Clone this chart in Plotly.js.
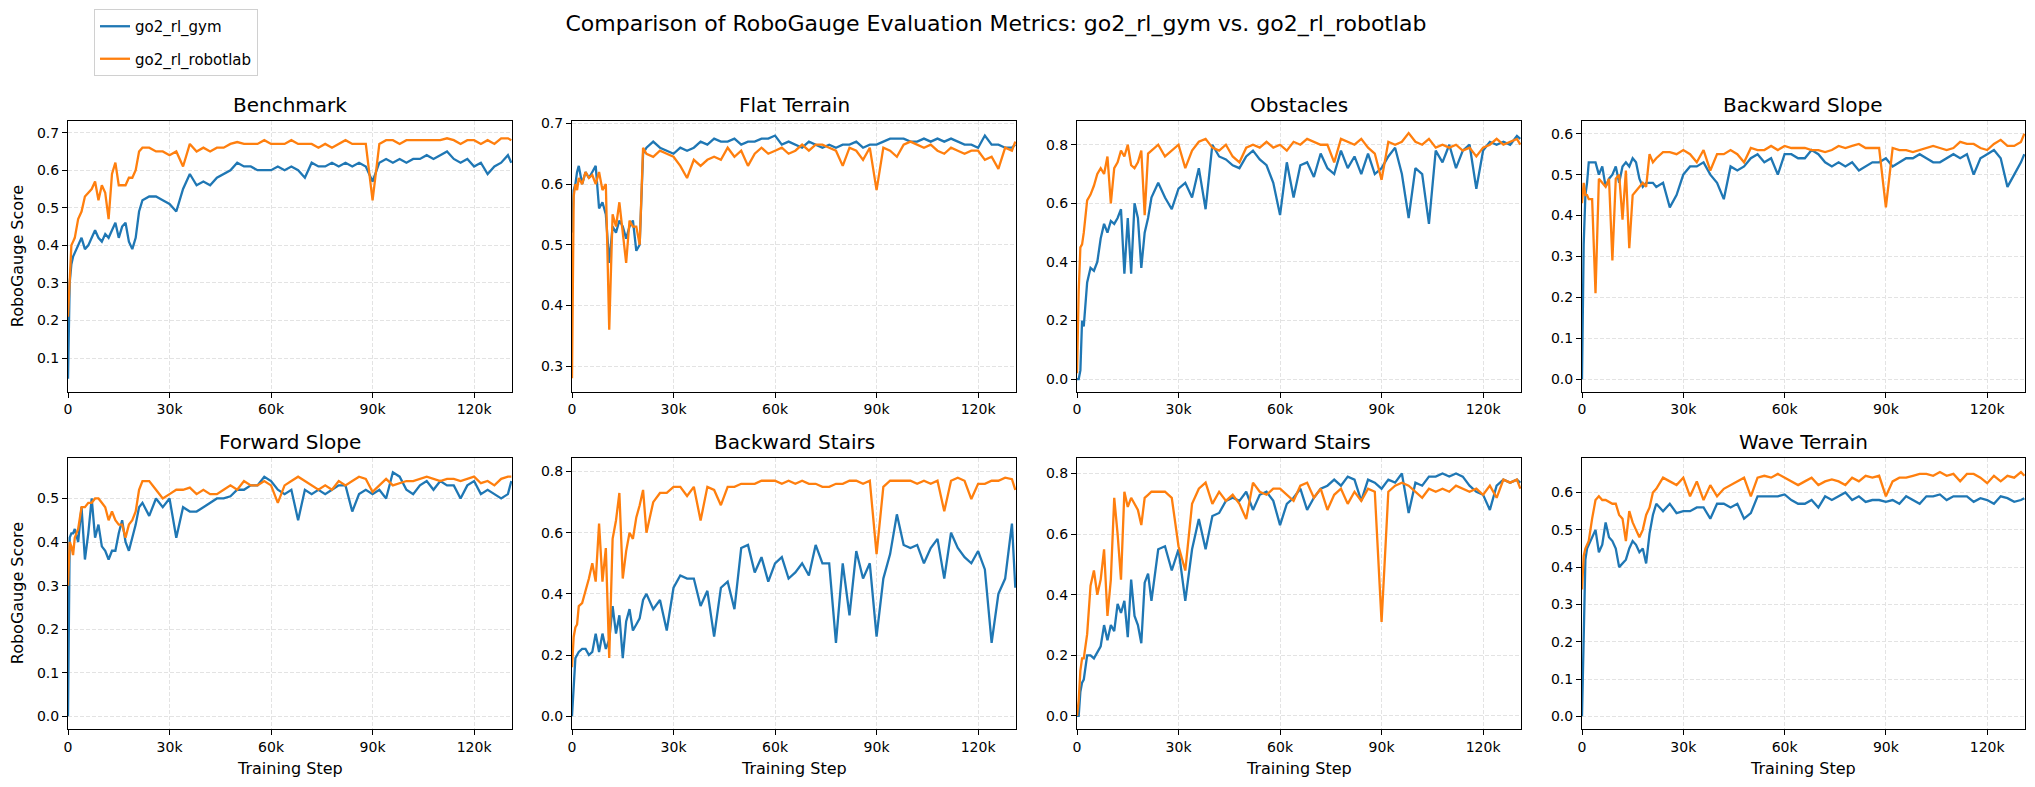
<!DOCTYPE html>
<html>
<head>
<meta charset="utf-8">
<script src="https://cdn.plot.ly/plotly-3.0.1.min.js"></script>
<style>
  html, body { margin: 0; padding: 0; background: #fff; }
  #chart { width: 2035px; height: 787px; }
</style>
</head>
<body>
<div id="chart"></div>
<script>
// training step, in thousands
const steps = [0, 0.5, 1, 1.5,
  2, 3, 4, 5, 6, 7, 8, 9, 10, 11, 12, 13, 14, 15, 16, 17, 18, 19, 20, 21, 22,
  24, 26, 28, 30, 32, 34, 36, 38, 40, 42,
  44, 46, 48, 50, 52, 54, 56, 58, 60, 62,
  64, 66, 68, 70, 72, 74, 76, 78, 80, 82,
  84, 86, 88, 90, 92, 94, 96, 98, 100, 102,
  104, 106, 108, 110, 112, 114, 116, 118, 120, 122,
  124, 126, 128, 130, 131];

const benchmarkGym = [0.045, 0.30, 0.35, 0.37,
  0.38, 0.40, 0.42, 0.39, 0.40, 0.42, 0.44, 0.42, 0.41, 0.43, 0.42, 0.44, 0.46, 0.42, 0.45, 0.46, 0.41, 0.39, 0.42, 0.49, 0.52,
  0.53, 0.53, 0.52, 0.51, 0.49, 0.55, 0.59, 0.56, 0.57, 0.56,
  0.58, 0.59, 0.60, 0.62, 0.61, 0.61, 0.60, 0.60, 0.60, 0.61,
  0.60, 0.61, 0.60, 0.58, 0.62, 0.61, 0.61, 0.62, 0.61, 0.62,
  0.61, 0.62, 0.61, 0.57, 0.62, 0.63, 0.62, 0.63, 0.62, 0.63,
  0.63, 0.64, 0.63, 0.64, 0.65, 0.63, 0.62, 0.63, 0.61, 0.62,
  0.59, 0.61, 0.62, 0.64, 0.62];
const benchmarkLab = [0.21, 0.33, 0.40, 0.41,
  0.42, 0.47, 0.49, 0.53, 0.54, 0.55, 0.57, 0.52, 0.56, 0.54, 0.47, 0.59, 0.62, 0.56, 0.56, 0.56, 0.58, 0.58, 0.60, 0.65, 0.66,
  0.66, 0.65, 0.65, 0.64, 0.65, 0.61, 0.67, 0.65, 0.66, 0.65,
  0.66, 0.66, 0.67, 0.675, 0.67, 0.67, 0.67, 0.68, 0.67, 0.67,
  0.67, 0.68, 0.67, 0.67, 0.67, 0.66, 0.67, 0.66, 0.67, 0.68,
  0.67, 0.67, 0.67, 0.52, 0.67, 0.68, 0.68, 0.67, 0.68, 0.68,
  0.68, 0.68, 0.68, 0.68, 0.685, 0.68, 0.67, 0.68, 0.68, 0.67,
  0.68, 0.67, 0.685, 0.685, 0.68];

const flatGym = [0.52, 0.59, 0.60, 0.62,
  0.63, 0.60, 0.62, 0.61, 0.62, 0.63, 0.56, 0.57, 0.55, 0.47, 0.53, 0.52, 0.54, 0.53, 0.51, 0.53, 0.54, 0.49, 0.50, 0.65, 0.66,
  0.67, 0.66, 0.655, 0.65, 0.66, 0.655, 0.66, 0.67, 0.665, 0.675,
  0.67, 0.67, 0.675, 0.665, 0.67, 0.67, 0.675, 0.675, 0.68, 0.665,
  0.67, 0.665, 0.66, 0.67, 0.665, 0.66, 0.665, 0.66, 0.665, 0.665,
  0.67, 0.66, 0.665, 0.665, 0.67, 0.675, 0.675, 0.675, 0.67, 0.67,
  0.675, 0.67, 0.675, 0.67, 0.675, 0.67, 0.665, 0.665, 0.66, 0.68,
  0.665, 0.665, 0.66, 0.66, 0.665];
const flatLab = [0.28, 0.58, 0.60, 0.59,
  0.61, 0.60, 0.62, 0.61, 0.615, 0.60, 0.62, 0.59, 0.60, 0.36, 0.55, 0.53, 0.57, 0.52, 0.47, 0.54, 0.53, 0.53, 0.50, 0.66, 0.65,
  0.645, 0.655, 0.65, 0.645, 0.63, 0.61, 0.64, 0.63, 0.64, 0.645,
  0.64, 0.66, 0.645, 0.655, 0.63, 0.65, 0.66, 0.65, 0.655, 0.66,
  0.65, 0.655, 0.665, 0.655, 0.665, 0.665, 0.66, 0.655, 0.63, 0.66,
  0.655, 0.64, 0.66, 0.59, 0.66, 0.655, 0.645, 0.665, 0.67, 0.665,
  0.66, 0.665, 0.655, 0.65, 0.66, 0.655, 0.65, 0.655, 0.655, 0.64,
  0.645, 0.625, 0.66, 0.655, 0.67];

const obstaclesGym = [0.0, 0.0, 0.03, 0.20,
  0.18, 0.33, 0.38, 0.37, 0.40, 0.48, 0.53, 0.50, 0.54, 0.53, 0.55, 0.58, 0.36, 0.55, 0.36, 0.60, 0.55, 0.38, 0.50, 0.55, 0.62,
  0.67, 0.62, 0.58, 0.65, 0.67, 0.62, 0.72, 0.58, 0.80, 0.76,
  0.75, 0.73, 0.72, 0.76, 0.78, 0.75, 0.73, 0.67, 0.56, 0.74,
  0.62, 0.73, 0.74, 0.69, 0.77, 0.72, 0.70, 0.78, 0.72, 0.76,
  0.70, 0.77, 0.70, 0.72, 0.76, 0.79, 0.70, 0.55, 0.72, 0.70,
  0.53, 0.78, 0.74, 0.80, 0.72, 0.78, 0.80, 0.65, 0.78, 0.81,
  0.80, 0.81, 0.80, 0.83, 0.82];
const obstaclesLab = [0.02, 0.30, 0.45, 0.46,
  0.50, 0.61, 0.63, 0.66, 0.70, 0.72, 0.70, 0.76, 0.60, 0.72, 0.74, 0.78, 0.76, 0.80, 0.73, 0.72, 0.74, 0.78, 0.56, 0.77, 0.78,
  0.80, 0.76, 0.78, 0.80, 0.72, 0.78, 0.81, 0.82, 0.79, 0.78,
  0.80, 0.76, 0.74, 0.79, 0.80, 0.79, 0.81, 0.79, 0.80, 0.78,
  0.81, 0.80, 0.82, 0.81, 0.80, 0.80, 0.74, 0.82, 0.81, 0.80,
  0.82, 0.79, 0.77, 0.68, 0.81, 0.80, 0.81, 0.84, 0.81, 0.80,
  0.82, 0.79, 0.80, 0.79, 0.80, 0.78, 0.79, 0.76, 0.79, 0.80,
  0.82, 0.80, 0.81, 0.82, 0.80];

const backSlopeGym = [0.0, 0.33, 0.45, 0.48,
  0.53, 0.53, 0.53, 0.50, 0.52, 0.47, 0.49, 0.50, 0.52, 0.48, 0.52, 0.53, 0.52, 0.54, 0.53, 0.49, 0.47, 0.48, 0.48, 0.48, 0.47,
  0.48, 0.42, 0.45, 0.50, 0.52, 0.52, 0.53, 0.50, 0.48, 0.44,
  0.52, 0.51, 0.52, 0.54, 0.55, 0.53, 0.54, 0.50, 0.55, 0.55,
  0.54, 0.54, 0.56, 0.55, 0.53, 0.52, 0.53, 0.52, 0.53, 0.51,
  0.52, 0.53, 0.53, 0.54, 0.52, 0.53, 0.54, 0.54, 0.55, 0.54,
  0.53, 0.53, 0.54, 0.55, 0.54, 0.55, 0.50, 0.54, 0.55, 0.56,
  0.54, 0.47, 0.50, 0.53, 0.55];
const backSlopeLab = [0.43, 0.48, 0.45, 0.45,
  0.44, 0.44, 0.21, 0.49, 0.48, 0.47, 0.49, 0.29, 0.49, 0.50, 0.39, 0.51, 0.32, 0.45, 0.46, 0.47, 0.48, 0.47, 0.55, 0.53, 0.54,
  0.555, 0.555, 0.55, 0.56, 0.55, 0.53, 0.56, 0.51, 0.55, 0.55,
  0.56, 0.55, 0.53, 0.565, 0.56, 0.56, 0.57, 0.56, 0.57, 0.565,
  0.565, 0.565, 0.56, 0.56, 0.555, 0.56, 0.57, 0.565, 0.57, 0.575,
  0.565, 0.565, 0.565, 0.42, 0.565, 0.56, 0.56, 0.555, 0.56, 0.565,
  0.57, 0.565, 0.56, 0.565, 0.58, 0.575, 0.575, 0.565, 0.56, 0.575,
  0.585, 0.57, 0.57, 0.58, 0.60];

const fwdSlopeGym = [0.0, 0.41, 0.42, 0.42,
  0.43, 0.40, 0.48, 0.36, 0.42, 0.50, 0.41, 0.44, 0.39, 0.38, 0.36, 0.38, 0.38, 0.42, 0.45, 0.40, 0.38, 0.41, 0.44, 0.48, 0.49,
  0.46, 0.50, 0.48, 0.50, 0.41, 0.48, 0.47, 0.47, 0.48, 0.49,
  0.50, 0.50, 0.505, 0.52, 0.52, 0.53, 0.53, 0.55, 0.54, 0.52,
  0.51, 0.52, 0.45, 0.52, 0.51, 0.52, 0.51, 0.52, 0.53, 0.53,
  0.47, 0.51, 0.52, 0.51, 0.52, 0.50, 0.56, 0.55, 0.52, 0.51,
  0.53, 0.54, 0.52, 0.54, 0.53, 0.53, 0.50, 0.53, 0.54, 0.51,
  0.52, 0.51, 0.50, 0.51, 0.54];
const fwdSlopeLab = [0.30, 0.40, 0.39, 0.37,
  0.41, 0.43, 0.48, 0.48, 0.49, 0.49, 0.50, 0.50, 0.49, 0.48, 0.45, 0.47, 0.45, 0.44, 0.44, 0.41, 0.44, 0.45, 0.47, 0.52, 0.54,
  0.54, 0.52, 0.50, 0.51, 0.52, 0.52, 0.525, 0.51, 0.52, 0.51,
  0.51, 0.52, 0.53, 0.52, 0.54, 0.53, 0.53, 0.54, 0.53, 0.49,
  0.53, 0.54, 0.55, 0.54, 0.53, 0.52, 0.53, 0.52, 0.54, 0.53,
  0.54, 0.55, 0.545, 0.515, 0.53, 0.545, 0.53, 0.535, 0.54, 0.54,
  0.545, 0.55, 0.545, 0.54, 0.545, 0.545, 0.54, 0.545, 0.55, 0.535,
  0.54, 0.53, 0.545, 0.55, 0.55];

const backStairsGym = [0.0, 0.08, 0.19, 0.20,
  0.21, 0.22, 0.22, 0.20, 0.21, 0.27, 0.21, 0.27, 0.22, 0.25, 0.36, 0.27, 0.33, 0.19, 0.31, 0.35, 0.28, 0.30, 0.32, 0.38, 0.40,
  0.35, 0.38, 0.28, 0.42, 0.46, 0.45, 0.45, 0.36, 0.41, 0.26,
  0.42, 0.44, 0.35, 0.55, 0.56, 0.47, 0.52, 0.44, 0.50, 0.52,
  0.45, 0.47, 0.50, 0.46, 0.56, 0.50, 0.50, 0.24, 0.50, 0.33,
  0.54, 0.45, 0.50, 0.26, 0.45, 0.53, 0.66, 0.56, 0.55, 0.56,
  0.50, 0.55, 0.58, 0.45, 0.60, 0.55, 0.52, 0.50, 0.54, 0.48,
  0.24, 0.40, 0.45, 0.63, 0.42];
const backStairsLab = [0.16, 0.26, 0.29, 0.30,
  0.36, 0.37, 0.41, 0.45, 0.50, 0.44, 0.63, 0.44, 0.55, 0.19, 0.58, 0.64, 0.73, 0.45, 0.54, 0.60, 0.58, 0.65, 0.69, 0.74, 0.60,
  0.70, 0.73, 0.73, 0.75, 0.75, 0.72, 0.75, 0.64, 0.75, 0.74,
  0.69, 0.75, 0.75, 0.76, 0.76, 0.76, 0.77, 0.77, 0.77, 0.76,
  0.77, 0.76, 0.77, 0.76, 0.76, 0.75, 0.75, 0.76, 0.76, 0.77,
  0.77, 0.76, 0.77, 0.53, 0.75, 0.77, 0.77, 0.77, 0.77, 0.76,
  0.77, 0.76, 0.77, 0.67, 0.77, 0.78, 0.77, 0.71, 0.76, 0.76,
  0.77, 0.77, 0.78, 0.775, 0.74];

const fwdStairsGym = [0.0, 0.0, 0.08, 0.11,
  0.12, 0.20, 0.20, 0.19, 0.21, 0.23, 0.30, 0.25, 0.30, 0.28, 0.37, 0.34, 0.38, 0.26, 0.45, 0.33, 0.30, 0.24, 0.44, 0.47, 0.38,
  0.55, 0.56, 0.48, 0.55, 0.38, 0.55, 0.65, 0.55, 0.66, 0.67,
  0.71, 0.72, 0.71, 0.74, 0.68, 0.73, 0.74, 0.71, 0.63, 0.70,
  0.72, 0.75, 0.68, 0.72, 0.75, 0.76, 0.78, 0.76, 0.79, 0.78,
  0.71, 0.78, 0.77, 0.75, 0.78, 0.77, 0.80, 0.67, 0.77, 0.76,
  0.79, 0.79, 0.80, 0.79, 0.80, 0.79, 0.76, 0.74, 0.73, 0.68,
  0.76, 0.78, 0.77, 0.78, 0.77];
const fwdStairsLab = [0.0, 0.05, 0.15, 0.19,
  0.19, 0.27, 0.43, 0.48, 0.40, 0.45, 0.55, 0.33, 0.45, 0.72, 0.60, 0.45, 0.74, 0.69, 0.72, 0.70, 0.68, 0.63, 0.72, 0.73, 0.74,
  0.74, 0.74, 0.72, 0.56, 0.48, 0.70, 0.75, 0.77, 0.70, 0.74,
  0.71, 0.73, 0.70, 0.65, 0.77, 0.74, 0.73, 0.75, 0.75, 0.73,
  0.71, 0.76, 0.77, 0.72, 0.75, 0.68, 0.73, 0.75, 0.70, 0.74,
  0.71, 0.75, 0.74, 0.31, 0.74, 0.76, 0.77, 0.76, 0.74, 0.72,
  0.75, 0.74, 0.75, 0.74, 0.76, 0.75, 0.74, 0.75, 0.73, 0.76,
  0.72, 0.78, 0.77, 0.78, 0.75];

const waveGym = [0.0, 0.25, 0.42, 0.45,
  0.46, 0.48, 0.50, 0.44, 0.46, 0.52, 0.48, 0.47, 0.45, 0.40, 0.41, 0.42, 0.45, 0.47, 0.46, 0.44, 0.45, 0.41, 0.49, 0.54, 0.57,
  0.55, 0.57, 0.545, 0.55, 0.55, 0.56, 0.56, 0.53, 0.57, 0.57,
  0.56, 0.57, 0.53, 0.545, 0.59, 0.59, 0.59, 0.59, 0.595, 0.58,
  0.57, 0.57, 0.58, 0.56, 0.59, 0.58, 0.59, 0.60, 0.58, 0.59,
  0.575, 0.58, 0.58, 0.575, 0.58, 0.57, 0.59, 0.58, 0.57, 0.59,
  0.59, 0.595, 0.58, 0.59, 0.59, 0.59, 0.575, 0.585, 0.58, 0.57,
  0.59, 0.585, 0.575, 0.58, 0.585];
const waveLab = [0.34, 0.43, 0.45, 0.46,
  0.47, 0.53, 0.58, 0.59, 0.58, 0.58, 0.575, 0.57, 0.57, 0.54, 0.53, 0.47, 0.55, 0.52, 0.50, 0.48, 0.50, 0.54, 0.56, 0.60, 0.61,
  0.64, 0.63, 0.62, 0.64, 0.59, 0.63, 0.58, 0.62, 0.59, 0.61,
  0.62, 0.63, 0.64, 0.59, 0.64, 0.645, 0.64, 0.65, 0.64, 0.63,
  0.62, 0.63, 0.64, 0.62, 0.63, 0.635, 0.63, 0.62, 0.64, 0.63,
  0.645, 0.64, 0.645, 0.59, 0.63, 0.64, 0.64, 0.645, 0.65, 0.65,
  0.645, 0.655, 0.645, 0.65, 0.63, 0.65, 0.65, 0.64, 0.625, 0.645,
  0.63, 0.645, 0.64, 0.655, 0.645];

const panelTitles = ['Benchmark', 'Flat Terrain', 'Obstacles', 'Backward Slope',
  'Forward Slope', 'Backward Stairs', 'Forward Stairs', 'Wave Terrain'];
const panelSeries = [
  [benchmarkGym, benchmarkLab], [flatGym, flatLab], [obstaclesGym, obstaclesLab], [backSlopeGym, backSlopeLab],
  [fwdSlopeGym, fwdSlopeLab], [backStairsGym, backStairsLab], [fwdStairsGym, fwdStairsLab], [waveGym, waveLab]
];
const yRanges = [[0.011, 0.731], [0.258, 0.704], [-0.042, 0.881], [-0.030, 0.631],
  [-0.029, 0.594], [-0.042, 0.846], [-0.043, 0.853], [-0.034, 0.694]];
const yDticks = [0.1, 0.1, 0.2, 0.1, 0.1, 0.2, 0.2, 0.1];
const xTickVals = [0, 30, 60, 90, 120];
const xTickText = ['0', '30k', '60k', '90k', '120k'];
const seriesNames = ['go2_rl_gym', 'go2_rl_robotlab'];
const seriesColors = ['#1f77b4', '#ff7f0e'];

const FONT = 'DejaVu Sans, Liberation Sans, sans-serif';
const W = 2035, H = 787;
const colPx = [[68, 512], [572, 1016], [1077, 1521], [1582, 2025]];
const rowPx = [[121, 391.5], [457.5, 729]];

function axisBase() {
  return {
    showline: true, mirror: true, linecolor: '#000', linewidth: 1,
    ticks: 'outside', ticklen: 5, tickwidth: 1, tickcolor: '#000',
    showgrid: true, gridcolor: '#e3e3e3', gridwidth: 1, griddash: '4px,2px',
    zeroline: false, automargin: false,
    tickfont: {family: FONT, size: 14, color: '#000'}
  };
}

const traces = [];
const layout = {
  width: W, height: H,
  margin: {l: 0, r: 0, t: 0, b: 0},
  paper_bgcolor: '#fff', plot_bgcolor: '#fff',
  font: {family: FONT, color: '#000'},
  showlegend: true,
  title: {
    text: 'Comparison of RoboGauge Evaluation Metrics: go2_rl_gym vs. go2_rl_robotlab',
    font: {family: FONT, size: 22, color: '#000'},
    x: 996 / W, xanchor: 'center', y: 1 - 23 / H, yanchor: 'middle'
  },
  legend: {
    x: 94 / W, y: 1 - 9 / H, xanchor: 'left', yanchor: 'top',
    bgcolor: '#fff', bordercolor: '#d0d0d0', borderwidth: 1,
    font: {family: FONT, size: 15, color: '#000'}
  },
  annotations: []
};

for (let i = 0; i < 8; ++i) {
  const row = Math.floor(i / 4), col = i % 4;
  const sfx = i === 0 ? '' : String(i + 1);
  const xd = [colPx[col][0] / W, colPx[col][1] / W];
  const yd = [1 - rowPx[row][1] / H, 1 - rowPx[row][0] / H];

  layout['xaxis' + sfx] = Object.assign(axisBase(), {
    domain: xd, anchor: 'y' + sfx, range: [0, 131.2],
    tickmode: 'array', tickvals: xTickVals, ticktext: xTickText
  });
  layout['yaxis' + sfx] = Object.assign(axisBase(), {
    domain: yd, anchor: 'x' + sfx, range: yRanges[i],
    tick0: 0, dtick: yDticks[i], tickformat: '.1f'
  });

  panelSeries[i].forEach((ys, k) => {
    traces.push({
      x: steps, y: ys, type: 'scatter', mode: 'lines',
      name: seriesNames[k], legendgroup: seriesNames[k], showlegend: i === 0,
      line: {color: seriesColors[k], width: 2.3},
      xaxis: 'x' + sfx, yaxis: 'y' + sfx
    });
  });

  layout.annotations.push({
    text: panelTitles[i], xref: 'paper', yref: 'paper',
    x: (xd[0] + xd[1]) / 2, y: 1 - (rowPx[row][0] - 16) / H,
    xanchor: 'center', yanchor: 'middle', showarrow: false,
    font: {family: FONT, size: 20, color: '#000'}
  });
  if (col === 0) {
    layout.annotations.push({
      text: 'RoboGauge Score', xref: 'paper', yref: 'paper',
      x: 17 / W, y: (yd[0] + yd[1]) / 2, textangle: -90,
      xanchor: 'center', yanchor: 'middle', showarrow: false,
      font: {family: FONT, size: 16, color: '#000'}
    });
  }
  if (row === 1) {
    layout.annotations.push({
      text: 'Training Step', xref: 'paper', yref: 'paper',
      x: (xd[0] + xd[1]) / 2, y: 1 - 768 / H,
      xanchor: 'center', yanchor: 'middle', showarrow: false,
      font: {family: FONT, size: 16, color: '#000'}
    });
  }
}

Plotly.newPlot('chart', traces, layout, {displayModeBar: false, staticPlot: true});
</script>
</body>
</html>
